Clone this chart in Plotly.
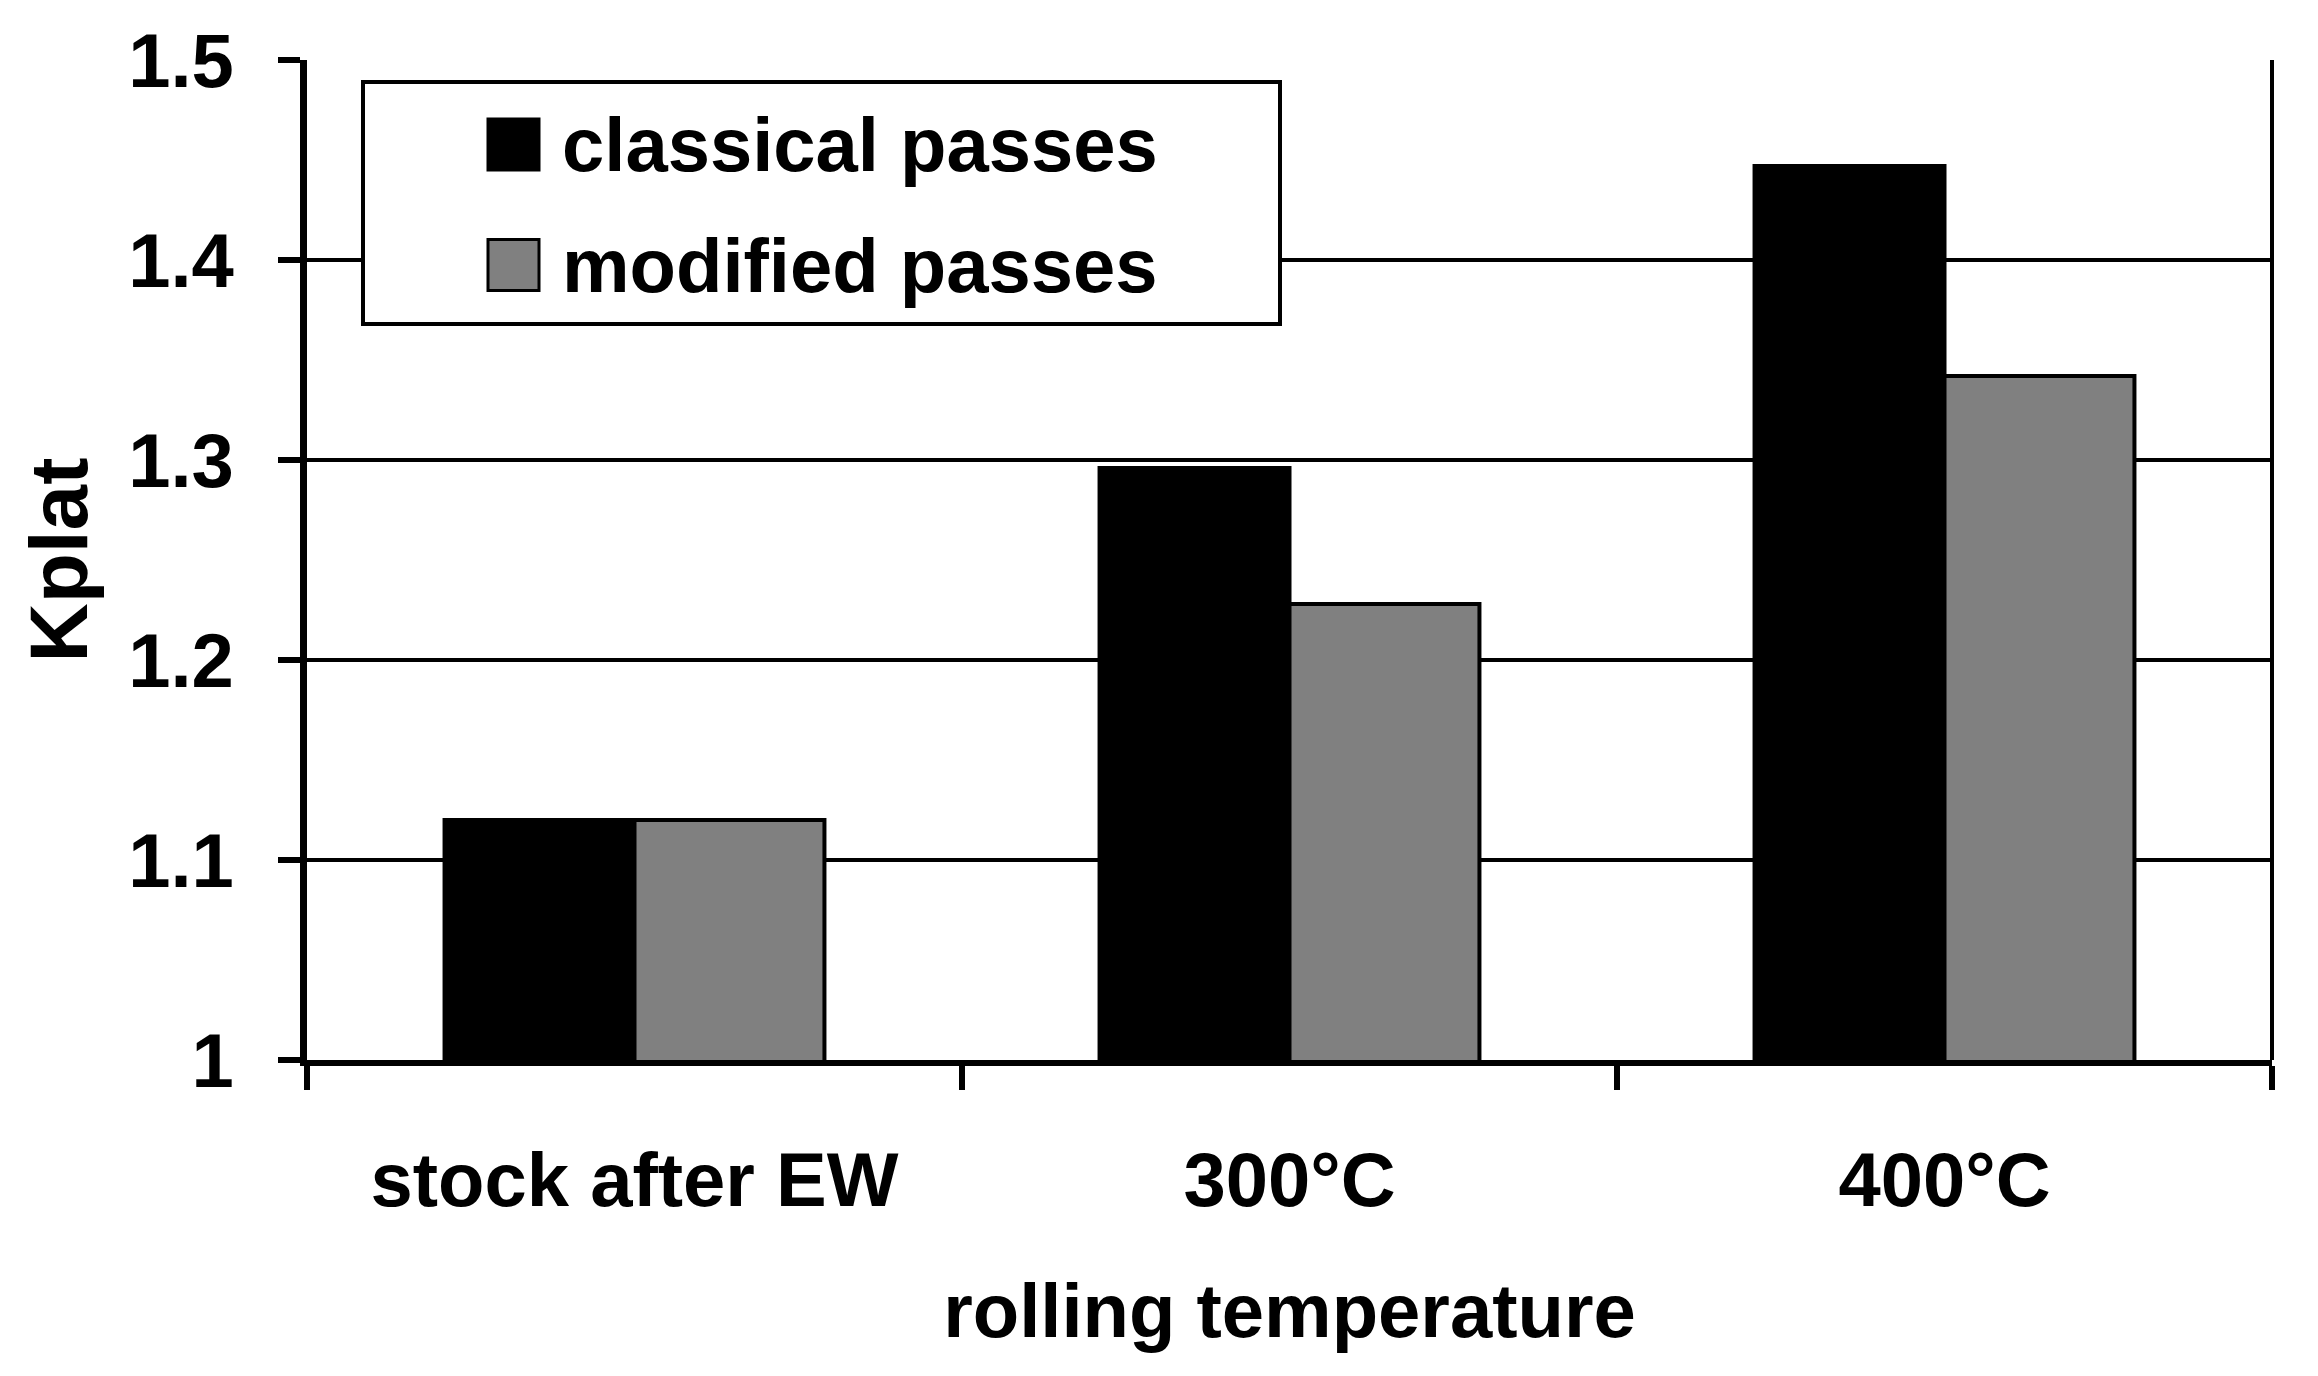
import plotly.graph_objects as go

# ---- data ----
categories = ["stock after EW", "300°C", "400°C"]
classical = [1.12, 1.296, 1.447]
modified = [1.12, 1.228, 1.342]
series_names = ["classical passes", "modified passes"]
y_ticks = [1.0, 1.1, 1.2, 1.3, 1.4, 1.5]
y_tick_labels = ["1", "1.1", "1.2", "1.3", "1.4", "1.5"]
x_title = "rolling temperature"
y_title = "Kplat"

# ---- layout geometry (pixels) ----
W, H = 2318, 1376
L, R, T, B = 307, 2272, 60, 1060


def px_x(p):
    return (p - L) / (R - L)


def px_y(p):
    return (B - p) / (B - T)


FONT = dict(family="Liberation Sans, Arial, sans-serif", size=76, color="black", weight="bold")
YTITLE_FONT = dict(FONT, size=82)
colors = ["#000000", "#808080"]

fig = go.Figure()
for name, vals, col in zip(series_names, [classical, modified], colors):
    fig.add_trace(go.Bar(
        x=categories, y=vals, name=name,
        marker=dict(color=col, line=dict(color="black", width=4)),
        showlegend=False,
    ))

fig.update_layout(
    width=W, height=H,
    margin=dict(l=L, r=W - R, t=T, b=H - B, pad=0),
    paper_bgcolor="white", plot_bgcolor="white",
    barmode="group", bargap=0.42, bargroupgap=0,
    font=FONT,
    showlegend=False,
)

fig.update_xaxes(
    type="category",
    showline=True, linecolor="black", linewidth=6,
    ticks="outside", tickson="boundaries", ticklen=24, tickwidth=6, tickcolor="black",
    tickfont=FONT, showgrid=False, zeroline=False,
    ticklabelstandoff=49,
    title=dict(text=x_title, font=FONT, standoff=65),
    automargin=True,
)
fig.update_yaxes(
    range=[1, 1.5], tickvals=y_ticks, ticktext=y_tick_labels,
    showline=True, linecolor="black", linewidth=7,
    ticks="outside", ticklen=22, tickwidth=6, tickcolor="black",
    tickfont=FONT, showgrid=True, gridcolor="black", gridwidth=4, zeroline=False,
    ticklabelstandoff=29,
    title=dict(text=y_title, font=YTITLE_FONT, standoff=16),
    automargin=True,
)

shapes = []
# right border of plot area
shapes.append(dict(type="line", xref="paper", yref="paper", x0=1, x1=1, y0=0, y1=1,
                   line=dict(color="black", width=4)))
# legend box
shapes.append(dict(type="rect", xref="paper", yref="paper",
                   x0=px_x(363), x1=px_x(1280), y0=px_y(324), y1=px_y(82),
                   fillcolor="white", line=dict(color="black", width=4)))
row_centers = [144.5, 265]
for col, yc in zip(colors, row_centers):
    shapes.append(dict(type="rect", xref="paper", yref="paper",
                       x0=px_x(488), x1=px_x(539), y0=px_y(yc + 25.5), y1=px_y(yc - 25.5),
                       fillcolor=col, line=dict(color="black", width=3)))
fig.update_layout(shapes=shapes)

for name, yc in zip(series_names, row_centers):
    fig.add_annotation(x=px_x(560), y=px_y(yc), xref="paper", yref="paper",
                       text=name, showarrow=False, xanchor="left", yanchor="middle",
                       font=FONT)

fig.write_html("out.html", config={"displayModeBar": False},
               post_script="document.body.style.margin='0';")
